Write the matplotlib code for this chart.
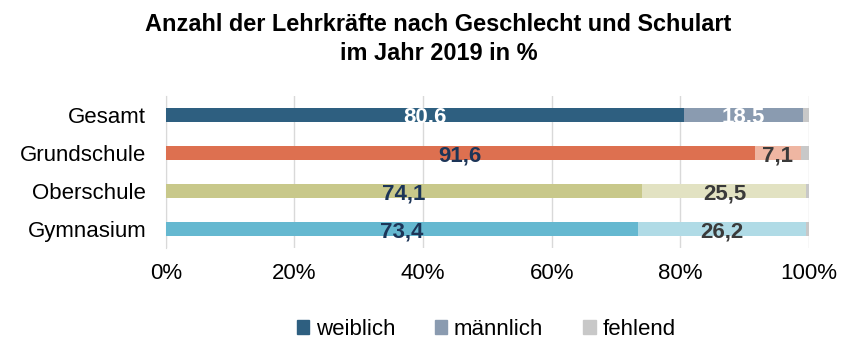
import matplotlib
matplotlib.use("Agg")
import matplotlib.pyplot as plt
import numpy as np
from matplotlib.patches import Patch

plt.rcParams['font.family'] = ['Liberation Sans', 'DejaVu Sans']

categories = ["Gesamt", "Grundschule", "Oberschule", "Gymnasium"]
weiblich = [80.6, 91.6, 74.1, 73.4]
maennlich = [18.5, 7.1, 25.5, 26.2]
fehlend = [0.9, 1.3, 0.4, 0.4]
weiblich_labels = ["80.6", "91,6", "74,1", "73,4"]
maennlich_labels = ["18.5", "7,1", "25,5", "26,2"]
xticks = [0, 20, 40, 60, 80, 100]

dark_colors = ["#2e5f80", "#dd7050", "#c8c88a", "#65b8d0"]
light_colors = ["#8a9bb0", "#efb6a2", "#e2e2c2", "#b0dbe6"]
miss_color = "#c8c8c8"
w_text = ["white", "#1c3558", "#1c3558", "#1c3558"]
m_text = ["white", "#3a3a3a", "#3a3a3a", "#3a3a3a"]

fig = plt.figure(figsize=(8.68, 3.62), dpi=100)
ax = fig.add_axes([0.191, 0.315, 0.741, 0.42])

y = np.arange(len(categories))
h = 0.39
w = np.array(weiblich); m = np.array(maennlich); f = np.array(fehlend)
ax.barh(y, w, height=h, color=dark_colors, zorder=3)
ax.barh(y, m, left=w, height=h, color=light_colors, zorder=3)
ax.barh(y, f, left=w + m, height=h, color=miss_color, zorder=3)

for i in range(len(categories)):
    ax.text(w[i] / 2, y[i] + 0.08, weiblich_labels[i], ha='center', va='center',
            fontsize=16, fontweight='bold', color=w_text[i], zorder=4)
    ax.text(w[i] + m[i] / 2, y[i] + 0.08, maennlich_labels[i], ha='center', va='center',
            fontsize=16, fontweight='bold', color=m_text[i], zorder=4)

ax.set_ylim(len(categories) - 0.5, -0.5)
ax.set_xlim(0, 100)
ax.set_yticks(y)
ax.set_yticklabels(categories, fontsize=16)
ax.set_xticks(xticks)
ax.set_xticklabels([f"{t}%" for t in xticks], fontsize=16)
ax.tick_params(axis='both', length=0)
ax.tick_params(axis='y', pad=14)
ax.tick_params(axis='x', pad=11)
ax.grid(axis='x', color='#d9d9d9', linewidth=1, zorder=0)
for s in ['top', 'right', 'bottom']:
    ax.spines[s].set_visible(False)
ax.spines['left'].set_color('#d9d9d9')

fig.text(0.505, 0.893, "Anzahl der Lehrkräfte nach Geschlecht und Schulart\nim Jahr 2019 in %",
         ha='center', va='center', fontsize=16.9, fontweight='bold', linespacing=1.35)

handles = [Patch(color=dark_colors[0]), Patch(color=light_colors[0]), Patch(color=miss_color)]
fig.legend(handles, ["weiblich", "männlich", "fehlend"], loc='center', bbox_to_anchor=(0.56, 0.09),
           ncol=3, frameon=False, fontsize=16, handlelength=0.55, handleheight=0.55,
           handletextpad=0.3, columnspacing=1.8)

fig.savefig("out.png", dpi=100)
